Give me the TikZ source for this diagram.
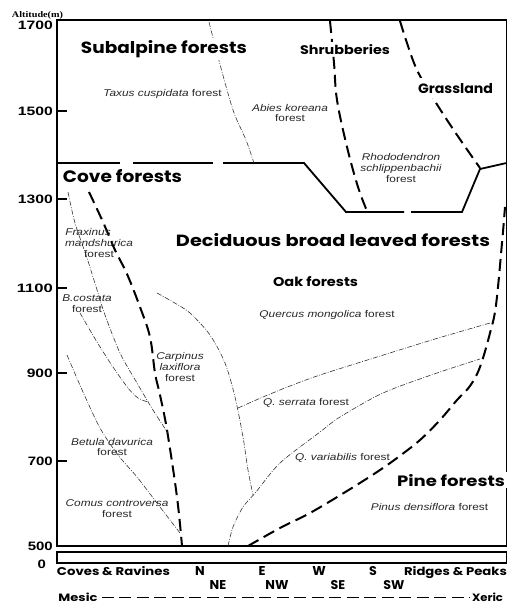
\documentclass[tikz,border=0pt]{standalone}
\usepackage{fontspec}
\usepackage{graphicx}
\setmainfont{Liberation Sans}
\newfontfamily\gothic{Poppins}
\newfontfamily\serifbf{Liberation Serif}
\newcommand\lab[1]{\scalebox{1.21}[1]{#1}}
\newcommand\fit[3]{\resizebox{#1pt}{#2pt}{#3}}
\newcommand\fith[2]{\resizebox{!}{#1pt}{#2}}
\begin{document}
\begin{tikzpicture}[x=1pt,y=-1pt,
  axisln/.style={line width=2.5pt},
  frameln/.style={line width=1.4pt},
  bound/.style={line width=1.8pt, line join=miter},
  bigdash/.style={line width=2pt, dash pattern=on 12pt off 6pt},
  dd/.style={line width=0.6pt, black!80, dash pattern=on 5pt off 1.6pt on 0.8pt off 1.6pt},
  mesline/.style={line width=1.3pt, dash pattern=on 12pt off 5.5pt},
  head/.style={anchor=base, inner xsep=1.5pt, inner ysep=2pt, fill=white, font=\gothic\bfseries},
  ticklab/.style={anchor=base east, inner sep=0pt, font=\bfseries},
  axl/.style={anchor=base, inner sep=0pt, font=\gothic\bfseries},
  sp/.style={font=\fontsize{9.8}{10.8}\selectfont, text=black!85, align=center, inner sep=0pt},
  spb/.style={sp, anchor=base},
]
\useasboundingbox (0,0) rectangle (508,605);

% frame and axis
\draw[frameln] (57,20) -- (506.5,20) -- (506.5,546);
\draw[axisln] (57,18.8) -- (57,546) -- (507.2,546);
\draw[frameln] (57,552) -- (506.5,552) -- (506.5,563);
\draw[axisln] (57,550.8) -- (57,563) -- (507.2,563);
\foreach \yy in {111,199,288,373,461} \draw[line width=2pt] (57,\yy) -- (67,\yy);

% tick labels
\node[ticklab] (t1700) at (53,29.3) {\fit{35}{8.5}{1700}};
\node[ticklab] (t1500) at (53,115.3) {\fit{35}{8.5}{1500}};
\node[ticklab] (t1300) at (53,203.8) {\fit{35}{8.5}{1300}};
\node[ticklab] (t1100) at (53,292.6) {\fit{36}{8.5}{1100}};
\node[ticklab] (t900) at (53,377.6) {\fit{26}{8.5}{900}};
\node[ticklab] (t700) at (53,465.6) {\fit{25}{8.5}{700}};
\node[ticklab] (t500) at (53,550.6) {\fit{25}{8.5}{500}};
\node[ticklab] (t0) at (46,568.6) {\fit{8.3}{8.5}{0}};
\node[anchor=base, inner sep=0pt] (alt) at (37.5,17.3) {\fit{51}{6}{\serifbf\bfseries Altitude(m)}};

% subalpine lower boundary
\draw[bound] (57,163) -- (120,163);
\draw[bound] (133,163) -- (213,163);
\draw[bound] (223,163) -- (304,163) -- (346,212) -- (404,212);
\draw[bound] (411,212) -- (462,212) -- (480,169) -- (506.5,163);

% thick dashed boundaries
\draw[bigdash] plot[smooth, tension=0.6] coordinates {(330,21) (334,63) (337,100) (347,147) (358,187) (367,211)};
\draw[bigdash] plot[smooth, tension=0.6] coordinates {(400,21) (407,43) (417,70) (433,98) (455,132) (480,168)};
\draw[bigdash] plot[smooth, tension=0.6] coordinates {(89,192) (103,222) (115,250) (127,274) (140,307) (150,337) (155,373) (160,395) (167,430) (177,497) (182,546)};
\draw[bigdash] plot[smooth, tension=0.6] coordinates {(248,546) (280,528) (310,513) (347,491) (377,472) (397,458) (420,440) (440,420) (457,400) (470,386) (480,367) (490,333) (496,305) (502,243) (505,207)};

% dash-dot community boundaries
\draw[dd] plot[smooth] coordinates {(209,22) (218,57) (233,110) (246,140) (254,163)};
\draw[dd] plot[smooth] coordinates {(68,192) (75,223) (87,258) (98,293) (105,315) (120,353) (137,383) (153,410) (168,433)};
\draw[dd] plot[smooth] coordinates {(80,313) (97,342) (113,367) (128,388) (138,398) (148,402)};
\draw[dd] plot[smooth] coordinates {(67,355) (83,392) (100,428) (118,455) (137,477) (160,507) (180,533)};
\draw[dd] plot[smooth] coordinates {(157,293) (173,302) (190,313) (210,335) (225,363) (235,397) (243,437) (248,470) (253,495)};
\draw[dd] plot[smooth] coordinates {(228,546) (233,527) (243,507) (256,492) (280,463) (320,432) (340,417) (383,393) (437,373) (480,359)};
\draw[dd] plot[smooth] coordinates {(238,408) (263,397) (290,386) (320,375) (377,357) (435,339) (490,323)};

% zone headings
\node[head] (sub) at (164,53.3) {\fit{166}{13}{Subalpine forests}};
\node[head] (shr) at (345,54.3) {\fit{90}{10}{Shrubberies}};
\node[head, inner ysep=5pt] (gra) at (455.5,93.3) {\fit{75}{10}{Grassland}};
\node[head] (cove) at (122.5,182.7) {\fit{119}{13}{Cove forests}};
\node[head] (dec) at (333,246) {\fit{314}{13}{Deciduous broad leaved forests}};
\node[head] (oak) at (315.5,286.7) {\fit{85}{10}{Oak forests}};
\node[head] (pine) at (451,486) {\fit{108}{12}{Pine forests}};

% forest labels
\node[spb] (taxus) at (162.5,96.5) {\lab{\textit{Taxus cuspidata} forest}};
\node[sp] (abies) at (290,113) {\lab{\textit{Abies koreana}}\\\lab{forest}};
\node[sp] (rhodo) at (401,168) {\lab{\textit{Rhododendron}}\\\lab{\textit{schlippenbachii}}\\\lab{forest}};
\node[sp] (frax) at (99,243) {\lab{\textit{Fraxinus}}\hspace*{22pt}\\\lab{\textit{mandshurica}}\\\lab{forest}};
\node[sp] (bcos) at (87,303.5) {\lab{\textit{B.costata}}\\\lab{forest}};
\node[sp] (carp) at (180,367) {\lab{\textit{Carpinus}}\\\lab{\textit{laxiflora}}\\\lab{forest}};
\node[sp] (betula) at (112,447) {\lab{\textit{Betula davurica}}\\\lab{forest}};
\node[sp] (comus) at (117,509) {\lab{\textit{Comus controversa}}\\\lab{forest}};
\node[spb] (querc) at (327,317.5) {\lab{\textit{Quercus mongolica} forest}};
\node[spb] (qser) at (306,405.5) {\lab{\textit{Q. serrata} forest}};
\node[spb] (qvar) at (342.5,460.5) {\lab{\textit{Q. variabilis} forest}};
\node[spb] (pinus) at (429.5,510.5) {\lab{\textit{Pinus densiflora} forest}};

% bottom axis labels
\node[axl] (coves) at (113.5,575) {\fit{113}{9}{Coves \& Ravines}};
\node[axl] (dN) at (200,575) {\fith{9}{N}};
\node[axl] (dE) at (262,575) {\fith{9}{E}};
\node[axl] (dW) at (319,575) {\fith{9}{W}};
\node[axl] (dS) at (373,575) {\fith{9}{S}};
\node[axl] (ridges) at (455.5,575) {\fit{103}{9}{Ridges \& Peaks}};
\node[axl] (dNE) at (218,589) {\fith{9}{NE}};
\node[axl] (dNW) at (277,589) {\fith{9}{NW}};
\node[axl] (dSE) at (338,589) {\fith{9}{SE}};
\node[axl] (dSW) at (394,589) {\fith{9}{SW}};
\node[axl] (mesic) at (78,601.5) {\fit{39}{8.5}{Mesic}};
\node[axl] (xeric) at (487.5,601.5) {\fit{31}{8.5}{Xeric}};
\draw[mesline] ([xshift=4pt]mesic.east) -- ([xshift=-2pt]xeric.west);
\end{tikzpicture}
\end{document}
